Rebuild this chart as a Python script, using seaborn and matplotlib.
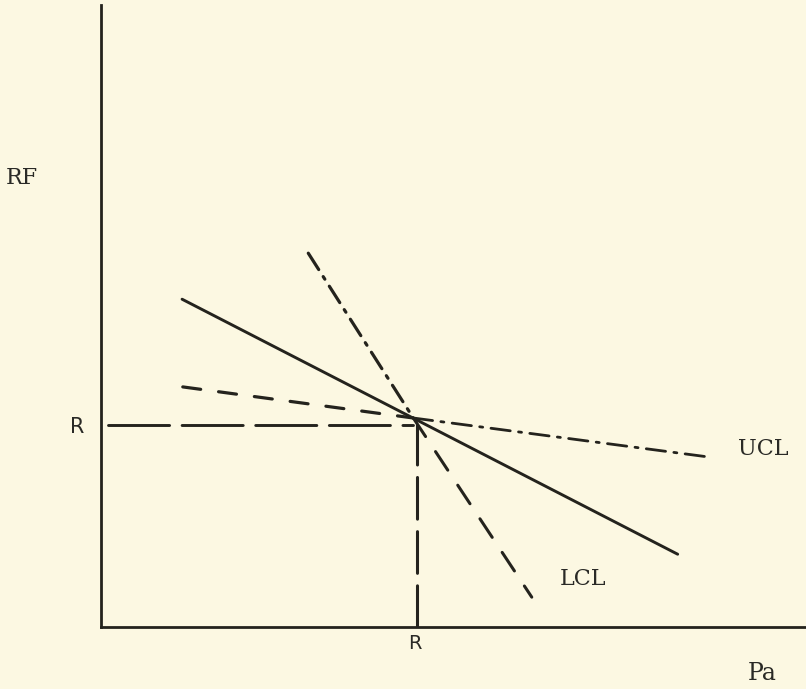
import matplotlib
matplotlib.use("Agg")
import matplotlib.pyplot as plt
import seaborn as sns

# Schematic: RF versus Pa, with control limits crossing at the point (R, R)
r_pa = 4.43
r_rf = 3.36
r_level = 3.25  # the dashed guide towards the RF axis sits a touch lower

fitted_pa = [1.15, 8.18]
fitted_rf = [5.27, 1.17]

# steep limit: dash-dot above R, dashed below R (ends near LCL)
steep_upper_pa = [2.94, r_pa]
steep_upper_rf = [6.01, r_rf]
steep_lower_pa = [r_pa, 6.11]
steep_lower_rf = [r_rf, 0.48]

# shallow limit: dashed left of R, dash-dot right of R (ends near UCL)
shallow_left_pa = [1.16, r_pa]
shallow_left_rf = [3.86, r_rf]
shallow_right_pa = [r_pa, 8.64]
shallow_right_rf = [r_rf, 2.73]

guide_h_pa = [0.10, r_pa]
guide_h_rf = [r_level, r_level]
guide_v_pa = [4.48, 4.48]
guide_v_rf = [0.0, r_level]

paper = "#fcf8e2"
ink = "#24231d"

sns.set_style("white", {"axes.facecolor": paper, "figure.facecolor": paper})
plt.rcParams["lines.scale_dashes"] = False
plt.rcParams["font.family"] = ["DejaVu Serif", "DejaVu Sans"]

fig = plt.figure(figsize=(8.06, 6.89), dpi=100)
ax = fig.add_axes([101 / 806, 62 / 689, 705 / 806, 622 / 689])

dash_dot = (0, (14, 6, 2.2, 6))
segments = [
    (fitted_pa, fitted_rf, "-", 2.1),
    (steep_upper_pa, steep_upper_rf, dash_dot, 2.3),
    (steep_lower_pa, steep_lower_rf, (0, (16, 13)), 2.2),
    (shallow_left_pa, shallow_left_rf, (0, (13, 13)), 2.3),
    (shallow_right_pa, shallow_right_rf, dash_dot, 2.0),
    (guide_h_pa, guide_h_rf, (0, (44, 9)), 2.1),
    (guide_v_pa, guide_v_rf, (0, (30, 9)), 2.2),
]
for xs, ys, ls, lw in segments:
    sns.lineplot(x=xs, y=ys, ax=ax, color=ink, linestyle=ls, linewidth=lw,
                 estimator=None, sort=False, solid_capstyle="round",
                 dash_capstyle="round")

ax.set_xlim(0, 10)
ax.set_ylim(0, 10)
ax.set_xticks([])
ax.set_yticks([])
ax.set_xlabel("")
ax.set_ylabel("")
sns.despine(ax=ax)
for side in ["left", "bottom"]:
    ax.spines[side].set_color(ink)
    ax.spines[side].set_linewidth(2.0)

txt = dict(color="#2a2a26", ha="center", va="center", clip_on=False)
ax.text(-1.12, 7.22, "RF", fontsize=16, family="DejaVu Serif", **txt)
ax.text(-0.34, 3.22, "R", fontsize=15, family="DejaVu Sans", **txt)
ax.text(4.45, -0.27, "R", fontsize=14, family="DejaVu Sans", **txt)
ax.text(9.38, -0.74, "Pa", fontsize=17, family="DejaVu Serif", **txt)
ax.text(9.39, 2.86, "UCL", fontsize=16, family="DejaVu Serif", **txt)
ax.text(6.84, 0.77, "LCL", fontsize=16, family="DejaVu Serif", **txt)

fig.savefig("out.png", dpi=100, facecolor=paper)
